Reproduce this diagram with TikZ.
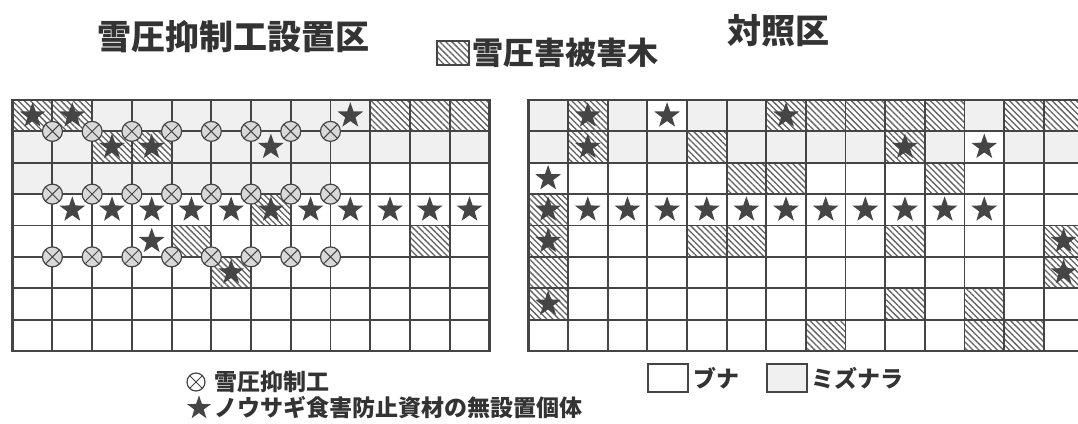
\documentclass[tikz,border=0pt]{standalone}
\usepackage{fontspec}
\newfontfamily\jp{Noto Sans CJK JP}
\usetikzlibrary{shapes.geometric,patterns.meta}
\definecolor{ink}{HTML}{454545}
\definecolor{mz}{HTML}{F0F0F0}
\definecolor{txt}{HTML}{333333}
\tikzset{
  gridline/.style={draw=ink, line width=1.9pt},
  frameline/.style={draw=ink, line width=2.6pt},
  hatch/.style={pattern={Lines[angle=-45,distance=4.3pt,line width=1.3pt]}, pattern color=ink!85},
  mzfill/.style={fill=mz},
  starmark/.style={star, star points=5, star point ratio=2.5, fill=ink, draw=none, minimum size=27pt, inner sep=0pt},
  osup/.style={circle, draw=ink, fill=mz!80!gray, line width=1.2pt, minimum size=20pt, inner sep=0pt,
    path picture={\draw[ink, line width=1pt] (path picture bounding box.center) ++(45:10pt) -- ++(225:20pt)
      (path picture bounding box.center) ++(135:10pt) -- ++(315:20pt);}},
  osupleg/.style={osup, fill=white, minimum size=18pt},
  titletext/.style={font=\jp\bfseries\fontsize{34}{36}\selectfont, text=txt, inner sep=0pt},
  legtext/.style={font=\jp\bfseries\fontsize{23}{25}\selectfont, text=txt, inner sep=0pt, anchor=west},
  toplegtext/.style={legtext, font=\jp\bfseries\fontsize{31}{33}\selectfont},
  legbox/.style={draw=ink, line width=1.6pt},
}
\begin{document}
\begin{tikzpicture}[x=1pt,y=-1pt]
\useasboundingbox (0,0) rectangle (1078,423);
\clip (0,0) rectangle (1078,423);
\fill[white] (0,0) rectangle (1078,423);
% ---------- left grid geometry ----------
\def\LX{12.7}\def\LW{39.72}\def\GY{100}\def\RH{31.375}
\def\RX{528.3}\def\RW{39.65}
% Mizunara fills (left)
\foreach \c/\r in {3/1,4/1,5/1,6/1,7/1,8/1,9/1,
  1/2,2/2,5/2,6/2,7/2,8/2,9/2,10/2,11/2,12/2,
  1/3,2/3,3/3,4/3,5/3,6/3,7/3,8/3}
  \fill[mzfill] ({\LX+(\c-1)*\LW},{\GY+(\r-1)*\RH}) rectangle ++(\LW,\RH);
% hatched (left)
\foreach \c/\r in {1/1,2/1,10/1,11/1,12/1,3/2,4/2,7/4,5/5,11/5,6/6}
  \fill[hatch] ({\LX+(\c-1)*\LW},{\GY+(\r-1)*\RH}) rectangle ++(\LW,\RH);
% grid lines (left)
\foreach \k in {1,...,11} \draw[gridline] ({\LX+\k*\LW},\GY) -- ++(0,{8*\RH});
\foreach \k in {1,...,7} \draw[gridline] (\LX,{\GY+\k*\RH}) -- ++({12*\LW},0);
\draw[frameline] (\LX,\GY) rectangle ++({12*\LW},{8*\RH});
% snow-pressure devices
\foreach \h in {1,3,5}
  \foreach \k in {1,...,8}
    \node[osup] (o\h-\k) at ({\LX+\k*\LW},{\GY+\h*\RH}) {};
% stars (left)
\foreach \c/\r in {1/1,2/1,9/1,3/2,4/2,7/2,2/4,3/4,4/4,5/4,6/4,7/4,8/4,9/4,10/4,11/4,12/4,4/5,6/6}
  \node[starmark] (ls\c-\r) at ({\LX+(\c-0.5)*\LW},{\GY+(\r-0.5)*\RH}) {};
% ---------- right grid ----------
\foreach \c/\r in {1/1,3/1,5/1,6/1,12/1,
  1/2,3/2,4/2,6/2,7/2,8/2,9/2,11/2,13/2,14/2}
  \fill[mzfill] ({\RX+(\c-1)*\RW},{\GY+(\r-1)*\RH}) rectangle ++(\RW,\RH);
\foreach \c/\r in {2/1,7/1,8/1,9/1,10/1,11/1,13/1,14/1,
  2/2,5/2,10/2, 6/3,7/3,11/3, 1/4, 1/5,5/5,6/5,10/5,14/5, 1/6,14/6, 1/7,10/7,12/7, 8/8,12/8,13/8}
  \fill[hatch] ({\RX+(\c-1)*\RW},{\GY+(\r-1)*\RH}) rectangle ++(\RW,\RH);
\foreach \k in {1,...,14} \draw[gridline] ({\RX+\k*\RW},\GY) -- ++(0,{8*\RH});
\foreach \k in {1,...,7} \draw[gridline] (\RX,{\GY+\k*\RH}) -- ++({14*\RW},0);
\draw[frameline] (\RX,\GY) rectangle ++({14*\RW},{8*\RH});
\foreach \c/\r in {2/1,4/1,7/1,2/2,10/2,12/2,1/3,1/4,2/4,3/4,4/4,5/4,6/4,7/4,8/4,9/4,10/4,11/4,12/4,1/5,14/5,14/6,1/7}
  \node[starmark] (rs\c-\r) at ({\RX+(\c-0.5)*\RW},{\GY+(\r-0.5)*\RH}) {};
% ---------- titles ----------
\node[titletext] (t1) at (233,37) {雪圧抑制工設置区};
\node[titletext] (t2) at (778,31) {対照区};
% hatched legend
\fill[hatch] (437,41) rectangle (469,65);
\draw[legbox] (437,41) rectangle (469,65);
\node[toplegtext] (lh) at (472,53) {雪圧害被害木};
% bottom legends
\node[osupleg] (lo) at (196,382) {};
\node[legtext] (lot) at (214,382) {雪圧抑制工};
\node[starmark, minimum size=25pt] (lst) at (199,408) {};
\node[legtext] (lstt) at (214,408) {ノウサギ食害防止資材の無設置個体};
\draw[legbox] (648,364) rectangle (688,392);
\node[legtext] (lb) at (693,378) {ブナ};
\draw[legbox, fill=mz] (767,364) rectangle (807,392);
\node[legtext] (lm) at (811,378) {ミズナラ};
\end{tikzpicture}
\end{document}
